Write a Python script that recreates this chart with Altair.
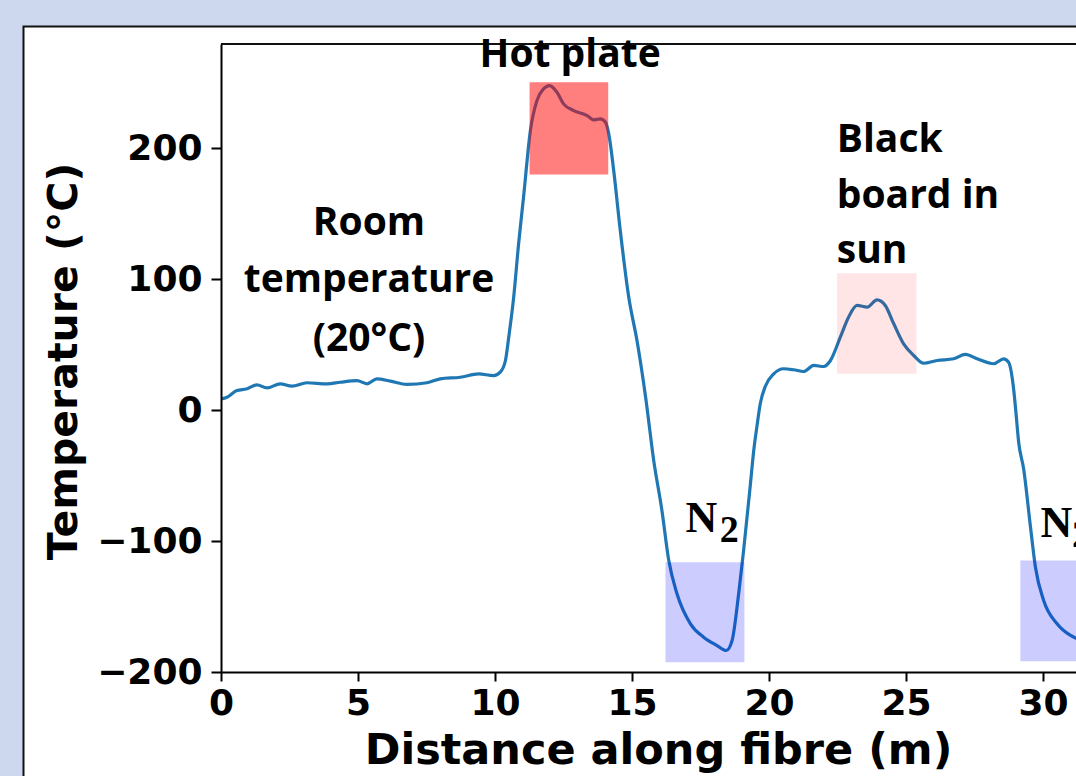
import altair as alt
import pandas as pd

# ---- data ----
distance = [0.0, 0.22, 0.58, 0.95, 1.31, 1.68, 2.16, 2.59, 3.14, 3.87, 4.35, 4.96, 5.33, 5.69,
            6.18, 6.79, 7.52, 8.0, 8.73, 9.4, 9.95, 10.19, 10.38, 10.5, 10.68, 10.86, 11.04,
            11.29, 11.53, 11.77, 11.99, 12.26, 12.5, 12.87, 13.36, 13.6, 13.84, 14.03, 14.15,
            14.33, 14.57, 14.88, 15.18, 15.5, 15.79, 16.09, 16.34, 16.64, 17.13, 17.61, 18.1,
            18.44, 18.65, 18.89, 19.07, 19.32, 19.44, 19.56, 19.68, 19.86, 20.17, 20.53, 20.9,
            21.26, 21.63, 21.99, 22.24, 22.6, 22.9, 23.21, 23.58, 23.94, 24.24, 24.55, 24.91,
            25.28, 25.64, 26.13, 26.74, 27.16, 27.59, 28.2, 28.56, 28.74, 28.93, 29.0, 29.11,
            29.29, 29.54, 29.72, 30.02, 30.51, 31.0, 31.3, 31.6]
temperature = [8.5, 9.8, 14.9, 16.2, 19.2, 16.9, 20.0, 18.2, 20.8, 20.0, 21.2, 22.5, 20.0, 23.8,
               22.0, 19.5, 20.8, 23.8, 25.0, 27.6, 26.3, 28.9, 37.8, 55.6, 86.0, 126.9, 162.4,
               213.4, 236.3, 245.2, 247.7, 242.6, 233.7, 228.6, 224.8, 221.5, 222.3, 219.7, 210.8,
               182.8, 137.0, 86.0, 53.0, 9.0, -38.5, -76.7, -114.9, -140.3, -163.2, -173.4, -179.8,
               -183.6, -176.0, -140.3, -107.3, -56.3, -31.0, -12.0, 5.0, 18.0, 27.6, 31.5, 30.7,
               29.4, 34.0, 33.2, 37.8, 55.6, 70.8, 79.8, 78.5, 84.1, 79.8, 65.8, 50.5,
               41.6, 35.7, 37.8, 39.1, 42.4, 39.1, 35.3, 39.1, 36.5, 14.9, 0.0, -25.0,
               -45.0, -89.5, -120.0, -145.4, -163.2, -172.1, -175.0, -177.0]

x_ticks = [0, 5, 10, 15, 20, 25, 30]
y_ticks = [-200, -100, 0, 100, 200]

box_x1 = [11.26, 22.48, 16.22, 29.17]
box_x2 = [14.13, 25.38, 19.10, 32.05]
box_y1 = [179.8, 27.6, -192.5, -191.8]
box_y2 = [250.2, 104.4, -116.2, -114.9]
box_color = ["#ff0000", "#ff0000", "#0000ff", "#0000ff"]
box_alpha = [0.5, 0.1, 0.2, 0.2]

center_text = ["Room", "temperature", "(20°C)", "Hot plate"]
center_x = [5.40, 5.40, 5.40, 12.74]
center_y = [133.6, 90.1, 45.0, 261.8]

left_text = ["Black", "board in", "sun"]
left_x = [22.47, 22.47, 22.47]
left_y = [197.2, 154.2, 112.2]

n_text = ["N", "N"]
n_x = [16.95, 29.9]
n_y = [-92.9, -96.7]
sub_text = ["2", "2"]
sub_x = [18.2, 31.05]
sub_y = [-100.5, -104.4]

W, H = 855, 628

xscale = alt.Scale(domain=[0, 31.2], nice=False, zero=False)
yscale = alt.Scale(domain=[-200, 279.4], nice=False, zero=False)

xaxis = alt.Axis(values=x_ticks, title="Distance along fibre (m)", grid=False, zindex=1,
                 labelFont="DejaVu Sans", labelFontWeight="bold", labelFontSize=36,
                 labelColor="black", labelPadding=5, labelFlush=False, labelOverlap=False,
                 tickColor="black", tickWidth=2, tickSize=9, domainColor="black", domainWidth=2,
                 titleFont="DejaVu Sans", titleFontWeight="bold", titleFontSize=43,
                 titleColor="black", titleX=437, titleY=91, titleAlign="center",
                 titleBaseline="alphabetic", format="d")
yaxis = alt.Axis(values=y_ticks, title="Temperature (°C)", grid=False, zindex=1,
                 labelFont="DejaVu Sans", labelFontWeight="bold", labelFontSize=36,
                 labelColor="black", labelPadding=9, labelFlush=False, labelOverlap=False,
                 labelExpr="replace(datum.label, '-', '\u2212')",
                 tickColor="black", tickWidth=2, tickSize=10, domainColor="black", domainWidth=2,
                 titleFont="DejaVu Sans", titleFontWeight="bold", titleFontSize=41,
                 titleColor="black", titleAngle=270, titleX=-145, titleY=317,
                 titleAlign="center", titleBaseline="alphabetic", format="d")

one = pd.DataFrame({"k": [0]})

panel = alt.Chart(one).mark_rect(fill="white", stroke="#111111", strokeWidth=2).encode(
    x=alt.value(-197.5), x2=alt.value(W + 100), y=alt.value(-17.5), y2=alt.value(H + 300))

line_df = pd.DataFrame({"d": distance, "t": temperature})
line = alt.Chart(line_df).mark_line(color="#1f77b4", strokeWidth=3.2, clip=True,
                                    interpolate="monotone").encode(
    x=alt.X("d:Q", scale=xscale, axis=xaxis),
    y=alt.Y("t:Q", scale=yscale, axis=yaxis))

box_df = pd.DataFrame({"x1": box_x1, "x2": box_x2, "y1": box_y1, "y2": box_y2,
                       "c": box_color, "a": box_alpha})
boxes = alt.Chart(box_df).mark_rect(clip=True).encode(
    x=alt.X("x1:Q", scale=xscale, axis=xaxis), x2="x2:Q",
    y=alt.Y("y1:Q", scale=yscale, axis=yaxis), y2="y2:Q",
    fill=alt.Fill("c:N", scale=None), opacity=alt.Opacity("a:Q", scale=None))

top_spine = alt.Chart(one).mark_rule(color="#111111", strokeWidth=2).encode(
    x=alt.value(0), x2=alt.value(W + 10), y=alt.value(0))

ctext_df = pd.DataFrame({"x": center_x, "y": center_y, "s": center_text})
ctext = alt.Chart(ctext_df).mark_text(font="Open Sans", fontWeight="bold", fontSize=39,
                                      align="center", baseline="alphabetic",
                                      color="black").encode(
    x=alt.X("x:Q", scale=xscale, axis=xaxis), y=alt.Y("y:Q", scale=yscale, axis=yaxis),
    text="s:N")

ltext_df = pd.DataFrame({"x": left_x, "y": left_y, "s": left_text})
ltext = alt.Chart(ltext_df).mark_text(font="Open Sans", fontWeight="bold", fontSize=39,
                                      align="left", baseline="alphabetic",
                                      color="black").encode(
    x=alt.X("x:Q", scale=xscale, axis=xaxis), y=alt.Y("y:Q", scale=yscale, axis=yaxis),
    text="s:N")

n_df = pd.DataFrame({"x": n_x, "y": n_y, "s": n_text})
ntext = alt.Chart(n_df).mark_text(font="Liberation Serif", fontWeight="bold", fontSize=44,
                                  align="left", baseline="alphabetic", color="black").encode(
    x=alt.X("x:Q", scale=xscale, axis=xaxis), y=alt.Y("y:Q", scale=yscale, axis=yaxis),
    text="s:N")

s_df = pd.DataFrame({"x": sub_x, "y": sub_y, "s": sub_text})
stext = alt.Chart(s_df).mark_text(font="Liberation Serif", fontWeight="bold", fontSize=38,
                                  align="left", baseline="alphabetic", color="black").encode(
    x=alt.X("x:Q", scale=xscale, axis=xaxis), y=alt.Y("y:Q", scale=yscale, axis=yaxis),
    text="s:N")

chart = alt.layer(panel, line, boxes, top_spine, ctext, ltext, ntext, stext).properties(
    width=W, height=H,
    autosize=alt.AutoSizeParams(type="none"),
    padding={"left": 221, "top": 44, "right": 0, "bottom": 104},
).configure(background="#cdd8ef").configure_view(strokeWidth=0)

chart.save("out.html", embed_options={"renderer": "svg", "actions": False})
